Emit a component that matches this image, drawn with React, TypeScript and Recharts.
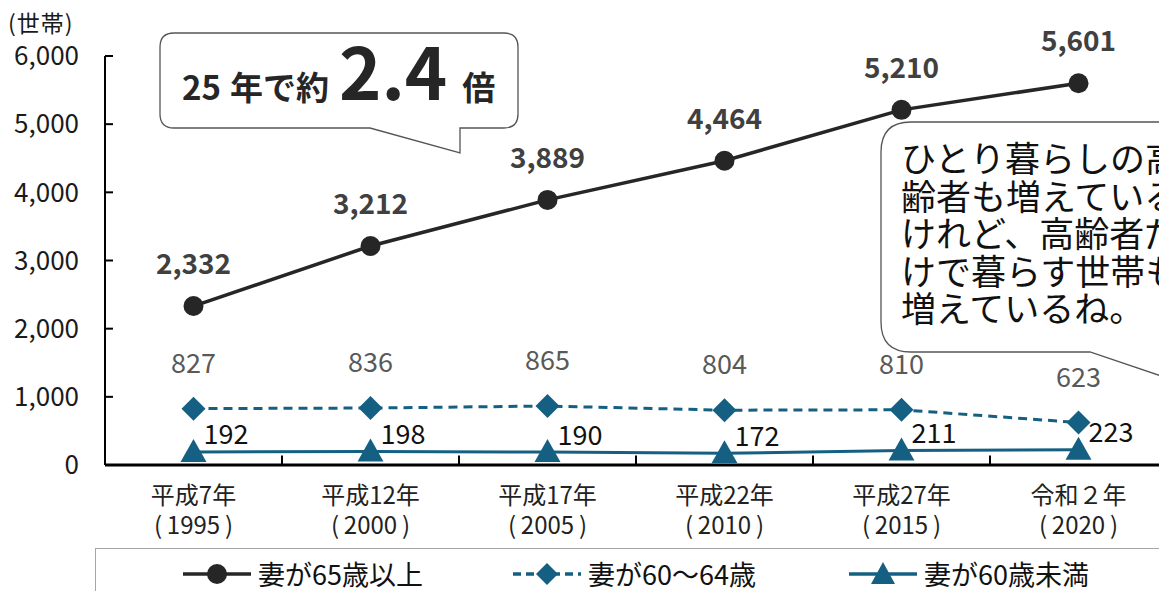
import React from "react";
import { LineChart, Line, XAxis, YAxis, LabelList, Legend, ReferenceLine } from "recharts";

const periods = ["平成7年", "平成12年", "平成17年", "平成22年", "平成27年", "令和２年"];
const westernYears = ["1995", "2000", "2005", "2010", "2015", "2020"];
const wife65Plus = [2332, 3212, 3889, 4464, 5210, 5601];
const wife60to64 = [827, 836, 865, 804, 810, 623];
const wifeUnder60 = [192, 198, 190, 172, 211, 223];
const yTicks = [0, 1000, 2000, 3000, 4000, 5000, 6000];
const seriesNames = ["妻が65歳以上", "妻が60～64歳", "妻が60歳未満"];
const calloutLines = [
  "ひとり暮らしの高",
  "齢者も増えている",
  "けれど、高齢者だ",
  "けで暮らす世帯も",
  "増えているね。",
];

const FONT = "'Noto Sans CJK JP', 'Noto Sans', sans-serif";
const DARK = "#262626";
const TEAL = "#156082";

const data = periods.map((p, i) => ({
  idx: i,
  over65: wife65Plus[i],
  from60: wife60to64[i],
  under60: wifeUnder60[i],
}));
const centerTicks = data.map((d) => d.idx);
const edgeTicks = centerTicks.slice(1).map((i) => i - 0.5);
// how tall the small category-boundary marks are, in axis units
const edgeTickHeight = 140;

const fmt = (v: number) => v.toLocaleString("en-US");

const CircleDot = (props: any) => {
  const { cx, cy } = props;
  return <circle key={props.key} cx={cx} cy={cy} r={10} fill={DARK} />;
};

const DiamondDot = (props: any) => {
  const { cx, cy } = props;
  const s = 12;
  return (
    <polygon
      key={props.key}
      points={`${cx},${cy - s} ${cx + s},${cy} ${cx},${cy + s} ${cx - s},${cy}`}
      fill={TEAL}
    />
  );
};

const TriangleDot = (props: any) => {
  const { cx, cy } = props;
  return (
    <polygon
      key={props.key}
      points={`${cx},${cy - 13} ${cx + 13},${cy + 10} ${cx - 13},${cy + 10}`}
      fill={TEAL}
    />
  );
};

// full-width brackets come out narrow here, so pad them a little
const PeriodTick = ({ x, y, payload }: any) => (
  <text x={x} y={y} textAnchor="middle" fontSize={24} fill="#222">
    <tspan x={x} dy={37}>{periods[payload.value]}</tspan>
    <tspan x={x} dy={30}>
      {"(\u2009" + westernYears[payload.value] + "\u2009)"}
    </tspan>
  </text>
);

const Under60Label = (props: any) => {
  const x = props.x ?? props.viewBox?.x;
  const y = props.y ?? props.viewBox?.y;
  return (
    <text x={x + 10} y={y - 19} dominantBaseline="central" fontSize={27} fill="#111">
      {props.value}
    </text>
  );
};

const LegendIcon = ({ kind }: { kind: number }) => (
  <svg width={68} height={28} style={{ display: "block" }}>
    <line
      x1={0}
      y1={14}
      x2={68}
      y2={14}
      stroke={kind === 0 ? DARK : TEAL}
      strokeWidth={3.5}
      strokeDasharray={kind === 1 ? "8 5" : undefined}
    />
    {kind === 0 && <circle cx={34} cy={14} r={10} fill={DARK} />}
    {kind === 1 && <polygon points="34,3 45,14 34,25 23,14" fill={TEAL} />}
    {kind === 2 && <polygon points="34,2 46,24 22,24" fill={TEAL} />}
  </svg>
);

const legendLefts = [87, 417, 753];

const LegendBox = () => (
  <div
    style={{
      boxSizing: "border-box",
      width: 1100,
      height: 51,
      borderTop: "1.5px solid #a6a6a6",
      borderLeft: "1.5px solid #a6a6a6",
      background: "#fff",
      position: "relative",
    }}
  >
    {seriesNames.map((name, i) => (
      <div
        key={name}
        style={{
          position: "absolute",
          left: legendLefts[i],
          top: 10,
          display: "flex",
          alignItems: "center",
          gap: 7,
          fontSize: 27,
          color: "#111",
          lineHeight: "30px",
          whiteSpace: "nowrap",
        }}
      >
        <LegendIcon kind={i} />
        <span>{name}</span>
      </div>
    ))}
  </div>
);

export default function App() {
  return (
    <div
      style={{
        margin: -8,
        width: 1167,
        height: 599,
        overflow: "hidden",
        position: "relative",
        fontFamily: FONT,
        background: "#fff",
      }}
    >
      <LineChart
        width={1180}
        height={599}
        data={data}
        margin={{ top: 56, right: 13, bottom: 0, left: 0 }}
      >
        <XAxis
          xAxisId="main"
          type="number"
          dataKey="idx"
          domain={[-0.5, 5.5]}
          ticks={centerTicks}
          interval={0}
          tick={<PeriodTick />}
          tickLine={false}
          tickSize={0}
          axisLine={{ stroke: "#000", strokeWidth: 3 }}
          height={83}
        />
        <YAxis
          domain={[0, 6000]}
          ticks={yTicks}
          interval={0}
          width={105}
          tickFormatter={fmt}
          tick={{ fontSize: 26, fill: "#1a1a1a" }}
          tickSize={-8}
          tickMargin={34}
          axisLine={{ stroke: "#000", strokeWidth: 2 }}
          tickLine={{ stroke: "#000", strokeWidth: 2 }}
        />
        {edgeTicks.map((x) => (
          <ReferenceLine
            key={x}
            xAxisId="main"
            segment={[
              { x, y: 0 },
              { x, y: edgeTickHeight },
            ]}
            stroke="#000"
            strokeWidth={2}
          />
        ))}
        <Legend
          content={<LegendBox />}
          wrapperStyle={{ left: 95, top: 548, width: 1100, bottom: "auto" }}
        />
        <Line
          xAxisId="main"
          dataKey="over65"
          name={seriesNames[0]}
          stroke={DARK}
          strokeWidth={3.5}
          dot={CircleDot}
          activeDot={false}
          isAnimationActive={false}
        >
          <LabelList
            dataKey="over65"
            position="top"
            offset={32}
            fill="#404040"
            fontSize={28}
            fontWeight="bold"
            formatter={fmt}
          />
        </Line>
        <Line
          xAxisId="main"
          dataKey="from60"
          name={seriesNames[1]}
          stroke={TEAL}
          strokeWidth={3}
          strokeDasharray="9 6"
          dot={DiamondDot}
          activeDot={false}
          isAnimationActive={false}
        >
          <LabelList
            dataKey="from60"
            position="top"
            offset={36}
            fill="#595959"
            fontSize={27}
          />
        </Line>
        <Line
          xAxisId="main"
          dataKey="under60"
          name={seriesNames[2]}
          stroke={TEAL}
          strokeWidth={3}
          dot={TriangleDot}
          activeDot={false}
          isAnimationActive={false}
        >
          <LabelList dataKey="under60" content={Under60Label} />
        </Line>
      </LineChart>

      <svg
        width={1167}
        height={599}
        style={{ position: "absolute", left: 0, top: 0, pointerEvents: "none" }}
      >
        <text x={8} y={32} fontSize={23} letterSpacing={1} fill="#1a1a1a">(世帯)</text>

        <path
          d="M 174 33 H 504 Q 518 33 518 47 V 114 Q 518 128 504 128 H 460 V 153 L 370 128 H 174 Q 160 128 160 114 V 47 Q 160 33 174 33 Z"
          fill="#fff"
          stroke="#555"
          strokeWidth={1.3}
        />
        <text x={182} y={100} fontWeight="bold" fill={DARK}>
          <tspan fontSize={33}>25</tspan>
          <tspan fontSize={33} dx={9}>年で約</tspan>
          <tspan fontSize={72} dx={10}>2.4</tspan>
          <tspan fontSize={33} dx={15}>倍</tspan>
        </text>

        <path
          d="M 1200 122 H 911 Q 881 122 881 152 V 322 Q 881 352 911 352 H 1090 L 1200 389"
          fill="#fff"
          stroke="#555"
          strokeWidth={1.3}
        />
        <text fontSize={35} fill="#111">
          {calloutLines.map((line, i) => (
            <tspan key={i} x={901} y={172 + i * 37.5}>
              {line}
            </tspan>
          ))}
        </text>
      </svg>
    </div>
  );
}
